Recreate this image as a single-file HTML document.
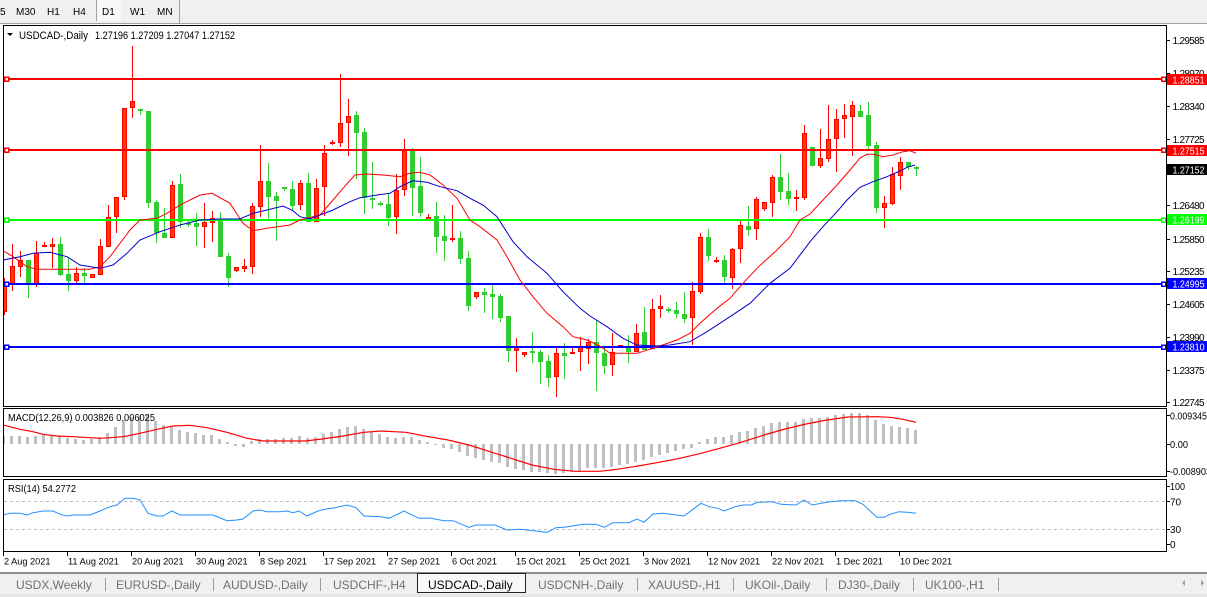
<!DOCTYPE html>
<html><head><meta charset="utf-8"><style>
html,body{margin:0;padding:0;background:#fff;width:1207px;height:597px;overflow:hidden}
svg{display:block}
text{font-family:"Liberation Sans",Arial,sans-serif}
</style></head><body>
<svg width="1207" height="597" viewBox="0 0 1207 597" xmlns="http://www.w3.org/2000/svg">
<defs>
<clipPath id="cm"><rect x="4" y="26" width="1162" height="380"/></clipPath>
<clipPath id="cd"><rect x="4" y="409" width="1162" height="67"/></clipPath>
<clipPath id="cr"><rect x="4" y="480" width="1162" height="71"/></clipPath>
</defs>
<rect x="0" y="0" width="1207" height="597" fill="#fff"/>
<!-- toolbar -->
<rect x="0" y="0" width="1207" height="23" fill="#f0f0f0"/>
<rect x="96" y="0" width="25" height="21" fill="#f8f8f8"/>
<line x1="96.5" y1="0" x2="96.5" y2="21" stroke="#a0a0a0"/>
<line x1="179.5" y1="0" x2="179.5" y2="23" stroke="#a0a0a0"/>
<line x1="0" y1="23.5" x2="1207" y2="23.5" stroke="#a0a0a0"/>
<g font-size="10" fill="#000">
<text x="0" y="15">5</text>
<text x="16" y="15">M30</text>
<text x="47" y="15">H1</text>
<text x="73" y="15">H4</text>
<text x="102" y="15">D1</text>
<text x="130" y="15">W1</text>
<text x="157" y="15">MN</text>
</g>
<!-- panels -->
<g fill="none" stroke="#000" stroke-width="1" shape-rendering="crispEdges">
<rect x="3.5" y="25.5" width="1163" height="381"/>
<rect x="3.5" y="408.5" width="1163" height="68"/>
<rect x="3.5" y="479.5" width="1163" height="72"/>
</g>
<!-- main chart -->
<g clip-path="url(#cm)">
<g shape-rendering="crispEdges">
<path stroke="#ff0000" stroke-width="1" fill="none" d="M4.5 278V315M12.5 244V291M20.5 251V277M36.5 241V287M44.5 242V247M52.5 238V268M76.5 267V285M100.5 239V275M108.5 205V247M116.5 197V233M124.5 108V200M132.5 46V118M172.5 181V238M204.5 203V248M212.5 211V242M236.5 267V272M244.5 259V272M252.5 203V274M260.5 145V217M300.5 180V210M316.5 179V222M324.5 145V216M332.5 140V145M340.5 74V147M348.5 99V156M396.5 174V234M404.5 139V196M428.5 214V220M452.5 205V242M476.5 292V299M516.5 338V372M524.5 352V357M556.5 346V397M572.5 348V354M580.5 337V371M588.5 339V364M612.5 333V376M620.5 345V348M636.5 324V352M652.5 299V349M660.5 295V318M692.5 282V345M700.5 233V294M716.5 257V263M732.5 248V289M740.5 219V263M756.5 197V240M764.5 202V211M772.5 175V217M796.5 190V211M804.5 125V200M820.5 129V168M828.5 105V162M836.5 109V172M844.5 104V138M852.5 101V156M884.5 196V228M892.5 167V205M900.5 157V190"/>
<path stroke="#32cd32" stroke-width="1" fill="none" d="M28.5 260V298M60.5 237V276M68.5 258V291M84.5 268V284M140.5 109V115M148.5 111V208M156.5 200V243M164.5 208V238M180.5 174V228M188.5 220V227M196.5 213V246M220.5 212V257M228.5 253V287M268.5 163V219M276.5 192V241M284.5 187V191M292.5 181V210M308.5 173V222M356.5 111V179M364.5 128V214M372.5 162V209M380.5 201V206M388.5 194V226M412.5 148V216M420.5 157V217M436.5 202V253M444.5 215V261M460.5 231V264M468.5 251V311M484.5 288V313M492.5 285V319M500.5 294V322M508.5 316V362M532.5 332V363M540.5 350V384M548.5 355V387M564.5 343V379M596.5 320V391M604.5 348V374M628.5 335V363M644.5 307V350M668.5 307V313M676.5 302V318M684.5 292V323M708.5 229V261M724.5 255V283M748.5 206V236M780.5 154V200M788.5 173V205M812.5 147V166M860.5 105V117M868.5 102V151M876.5 142V213M908.5 162V170M916.5 166V176"/>
<path fill="#32cd32" d="M26 260h5v24h-5zM58 244h5v31h-5zM66 274h5v7h-5zM82 273h5v3h-5zM138 109h5v2h-5zM146 111h5v92h-5zM154 202h5v31h-5zM162 233h5v5h-5zM178 184h5v38h-5zM186 223h5v2h-5zM194 223h5v4h-5zM218 220h5v37h-5zM226 256h5v22h-5zM266 181h5v16h-5zM274 196h5v5h-5zM282 187h5v2h-5zM290 189h5v17h-5zM306 183h5v39h-5zM354 115h5v18h-5zM362 132h5v66h-5zM370 198h5v2h-5zM378 203h5v2h-5zM386 204h5v14h-5zM410 149h5v39h-5zM418 186h5v27h-5zM434 216h5v21h-5zM442 236h5v5h-5zM458 238h5v21h-5zM466 258h5v48h-5zM482 292h5v3h-5zM490 294h5v3h-5zM498 296h5v22h-5zM506 316h5v35h-5zM530 351h5v2h-5zM538 352h5v10h-5zM546 361h5v17h-5zM562 353h5v3h-5zM594 342h5v11h-5zM602 353h5v13h-5zM626 347h5v5h-5zM642 332h5v18h-5zM666 309h5v2h-5zM674 310h5v4h-5zM682 314h5v5h-5zM706 237h5v19h-5zM722 260h5v17h-5zM746 226h5v4h-5zM778 177h5v15h-5zM786 191h5v8h-5zM810 147h5v19h-5zM858 111h5v6h-5zM866 115h5v31h-5zM874 145h5v63h-5zM906 162h5v5h-5zM914 167h5v2h-5z"/>
<path fill="#ff3d00" stroke="#ff0000" stroke-width="1" d="M2.5 282.5h4v29h-4zM10.5 266.5h4v17h-4zM18.5 260.5h4v6h-4zM34.5 253.5h4v30h-4zM42.5 245.5h4v1h-4zM50.5 244.5h4v2h-4zM74.5 273.5h4v7h-4zM90.5 274.5h4v3h-4zM98.5 246.5h4v28h-4zM106.5 217.5h4v29h-4zM114.5 197.5h4v19h-4zM122.5 108.5h4v88h-4zM130.5 101.5h4v6h-4zM170.5 185.5h4v52h-4zM202.5 222.5h4v4h-4zM210.5 218.5h4v4h-4zM234.5 267.5h4v3h-4zM242.5 266.5h4v2h-4zM250.5 206.5h4v60h-4zM258.5 181.5h4v25h-4zM298.5 183.5h4v21h-4zM314.5 188.5h4v33h-4zM322.5 153.5h4v33h-4zM330.5 142.5h4v1h-4zM338.5 123.5h4v19h-4zM346.5 116.5h4v6h-4zM394.5 190.5h4v26h-4zM402.5 149.5h4v40h-4zM426.5 217.5h4v2h-4zM450.5 238.5h4v1h-4zM474.5 292.5h4v4h-4zM514.5 346.5h4v4h-4zM522.5 352.5h4v2h-4zM554.5 353.5h4v23h-4zM570.5 352.5h4v1h-4zM578.5 347.5h4v4h-4zM586.5 342.5h4v6h-4zM610.5 352.5h4v12h-4zM618.5 345.5h4v1h-4zM634.5 333.5h4v18h-4zM650.5 309.5h4v39h-4zM658.5 306.5h4v2h-4zM690.5 291.5h4v26h-4zM698.5 237.5h4v54h-4zM714.5 260.5h4v1h-4zM730.5 249.5h4v28h-4zM738.5 225.5h4v23h-4zM754.5 199.5h4v29h-4zM762.5 202.5h4v6h-4zM770.5 177.5h4v25h-4zM794.5 197.5h4v1h-4zM802.5 133.5h4v64h-4zM818.5 158.5h4v7h-4zM826.5 139.5h4v19h-4zM834.5 119.5h4v19h-4zM842.5 115.5h4v3h-4zM850.5 105.5h4v11h-4zM882.5 203.5h4v4h-4zM890.5 174.5h4v29h-4zM898.5 162.5h4v13h-4z"/>
<!-- horizontal lines -->
<line x1="4" y1="79" x2="1166" y2="79" stroke="#ff0000" stroke-width="2"/>
<line x1="4" y1="150" x2="1166" y2="150" stroke="#ff0000" stroke-width="2"/>
<line x1="4" y1="220" x2="1166" y2="220" stroke="#00ff00" stroke-width="2"/>
<line x1="4" y1="284" x2="1166" y2="284" stroke="#0000ff" stroke-width="2"/>
<line x1="4" y1="347" x2="1166" y2="347" stroke="#0000ff" stroke-width="2"/>
<g fill="#fff" stroke-width="1.5">
<rect x="4.5" y="77" width="4" height="4" stroke="#ff0000"/>
<rect x="1161.5" y="77" width="4" height="4" stroke="#ff0000"/>
<rect x="4.5" y="148" width="4" height="4" stroke="#ff0000"/>
<rect x="1161.5" y="148" width="4" height="4" stroke="#ff0000"/>
<rect x="4.5" y="218" width="4" height="4" stroke="#00ff00"/>
<rect x="1161.5" y="218" width="4" height="4" stroke="#00ff00"/>
<rect x="4.5" y="282" width="4" height="4" stroke="#0000ff"/>
<rect x="1161.5" y="282" width="4" height="4" stroke="#0000ff"/>
<rect x="4.5" y="345" width="4" height="4" stroke="#0000ff"/>
<rect x="1161.5" y="345" width="4" height="4" stroke="#0000ff"/>
</g>
</g>
<polyline fill="none" stroke="#ff0000" stroke-width="1" points="3,250.7 13,256.7 27,266.7 37,269.3 90,269.3 100,266.7 110,256.7 120,243.3 130,230 140,220 157,218.3 167,213.3 180,205 200,195 212,193.3 230,203.3 243,223.3 253,230.7 267,228.3 290,225 300,220 320,215 333,200 343,188.3 355,175 367,174 383,175 400,176.7 410,173.3 420,172.3 430,175 443,185 457,198.3 470,220 480,226.7 497,240 507,256.7 520,280 533,296.7 547,313.3 563,326.7 573,336.7 587,340 600,346 610,353.3 637,353.3 653,348.3 677,340 690,333.3 700,323.3 717,308.3 730,298.3 743,283.3 757,268.3 777,250 790,236.7 800,220 810,214 823,200 837,185 850,170 860,158 867,154.3 873,154.3 883,156.7 893,155 903,151.7 910,150.7 916,153.3"/>
<polyline fill="none" stroke="#0000cc" stroke-width="1" points="3,260 20,256.7 33,253.3 50,252.3 67,256.7 80,265 100,268.3 113,265 127,253.3 140,240 160,231.7 180,225 200,220 220,219 240,219 253,213.3 267,210 283,206 293,210.7 300,216.7 310,219 320,215 333,210 350,201.7 360,197.7 377,195 390,193.3 400,186.7 413,180.7 427,182.3 440,186.7 457,190.7 470,198.3 483,205 497,216.7 513,241.7 527,256.7 547,273.3 563,291.7 580,308.3 590,316 607,326.7 623,338.3 637,345 657,346 670,345 690,341.7 707,331.7 730,316.7 750,303.3 770,283.3 790,268.3 810,241.7 823,226.7 837,211.7 847,200 860,187.3 873,181.7 887,176.7 900,171 907,167.3 915,165"/>
</g>
<!-- title -->
<polygon points="7,33 13,33 10,36" fill="#000"/>
<text x="19" y="39" font-size="11" textLength="69" lengthAdjust="spacingAndGlyphs">USDCAD-,Daily</text>
<text x="95" y="39" font-size="11" textLength="140" lengthAdjust="spacingAndGlyphs">1.27196 1.27209 1.27047 1.27152</text>
<!-- right axis main -->
<g stroke="#000" shape-rendering="crispEdges">
<path d="M1166 40.5h4M1166 73.5h4M1166 106.5h4M1166 139.5h4M1166 171.5h4M1166 205.5h4M1166 239.5h4M1166 271.5h4M1166 304.5h4M1166 337.5h4M1166 370.5h4M1166 402.5h4M1166 415.5h4M1166 444.5h4M1166 471.5h4M1166 486.5h4M1166 501.5h4M1166 529.5h4M1166 544.5h4"/>
</g>
<g font-size="10" fill="#000" lengthAdjust="spacingAndGlyphs">
<text x="1172.5" y="44" textLength="32">1.29585</text>
<text x="1172.5" y="77" textLength="32">1.28970</text>
<text x="1172.5" y="110" textLength="32">1.28340</text>
<text x="1172.5" y="143" textLength="32">1.27725</text>
<text x="1172.5" y="175" textLength="32">1.27110</text>
<text x="1172.5" y="209" textLength="32">1.26480</text>
<text x="1172.5" y="243" textLength="32">1.25850</text>
<text x="1172.5" y="275" textLength="32">1.25235</text>
<text x="1172.5" y="308" textLength="32">1.24605</text>
<text x="1172.5" y="341" textLength="32">1.23990</text>
<text x="1172.5" y="374" textLength="32">1.23375</text>
<text x="1172.5" y="406" textLength="32">1.22745</text>
</g>
<rect x="1167" y="74" width="40" height="11" fill="#ff0000"/>
<rect x="1167" y="145" width="40" height="11" fill="#ff0000"/>
<rect x="1167" y="164" width="40" height="11" fill="#000"/>
<rect x="1167" y="214" width="40" height="11" fill="#00ff00"/>
<rect x="1167" y="278" width="40" height="11" fill="#0000ff"/>
<rect x="1167" y="341" width="40" height="11" fill="#0000ff"/>
<g font-size="10" fill="#fff">
<text x="1172.5" y="83.5" textLength="32" lengthAdjust="spacingAndGlyphs">1.28851</text>
<text x="1172.5" y="154.5" textLength="32" lengthAdjust="spacingAndGlyphs">1.27515</text>
<text x="1172.5" y="173.5" textLength="32" lengthAdjust="spacingAndGlyphs">1.27152</text>
<text x="1172.5" y="223.5" textLength="32" lengthAdjust="spacingAndGlyphs">1.26199</text>
<text x="1172.5" y="287.5" textLength="32" lengthAdjust="spacingAndGlyphs">1.24995</text>
<text x="1172.5" y="350.5" textLength="32" lengthAdjust="spacingAndGlyphs">1.23810</text>
</g>
<!-- MACD -->
<g clip-path="url(#cd)">
<path stroke="#c0c0c0" stroke-width="3" fill="none" shape-rendering="crispEdges" d="M3.5 444V436M11.5 444V436M19.5 444V436M27.5 444V437M35.5 444V436M43.5 444V435M51.5 444V435M59.5 444V436M67.5 444V438M75.5 444V439M83.5 444V440M91.5 444V439M99.5 444V437M107.5 444V433M115.5 444V427M123.5 444V420M131.5 444V417M139.5 444V416M147.5 444V415M155.5 444V421M163.5 444V425M171.5 444V427M179.5 444V430M187.5 444V432M195.5 444V433M203.5 444V435M211.5 444V435M219.5 444V439M227.5 444V442M235.5 444V446M243.5 444V447M251.5 444V441M259.5 444V439M267.5 444V439M275.5 444V439M283.5 444V438M291.5 444V438M299.5 444V436M307.5 444V438M315.5 444V437M323.5 444V434M331.5 444V432M339.5 444V429M347.5 444V427M355.5 444V426M363.5 444V429M371.5 444V432M379.5 444V434M387.5 444V437M395.5 444V438M403.5 444V437M411.5 444V437M419.5 444V440M427.5 444V442M435.5 444V445M443.5 444V448M451.5 444V449M459.5 444V452M467.5 444V456M475.5 444V458M483.5 444V460M491.5 444V462M499.5 444V463M507.5 444V467M515.5 444V469M523.5 444V470M531.5 444V472M539.5 444V472M547.5 444V473M555.5 444V474M563.5 444V473M571.5 444V472M579.5 444V472M587.5 444V468M595.5 444V468M603.5 444V468M611.5 444V467M619.5 444V465M627.5 444V464M635.5 444V462M643.5 444V460M651.5 444V457M659.5 444V455M667.5 444V453M675.5 444V451M683.5 444V449M691.5 444V448M699.5 444V442M707.5 444V439M715.5 444V437M723.5 444V437M731.5 444V435M739.5 444V432M747.5 444V431M755.5 444V428M763.5 444V426M771.5 444V423M779.5 444V422M787.5 444V422M795.5 444V422M803.5 444V419M811.5 444V418M819.5 444V418M827.5 444V417M835.5 444V415M843.5 444V414M851.5 444V413M859.5 444V413M867.5 444V415M875.5 444V420M883.5 444V424M891.5 444V426M899.5 444V427M907.5 444V428M915.5 444V430"/>
<polyline fill="none" stroke="#ff0000" stroke-width="1.2" points="3,425 20,429.3 33,431.7 43,434.3 57,436 73,436.7 100,438.3 110,437.7 123,436.7 140,433.3 157,429.3 173,426 190,425.3 207,427.7 227,432.3 247,438.3 263,441 280,441 305,441 322,439 343,436 364,432.3 381,431 406,432.3 423,435.7 448,440 469,445 490,451.7 511,458.3 532,465 554,469.3 575,471.3 600,471.3 617,469.3 638,466 659,462.3 680,458.3 701,453.3 722,447.7 743,441.7 764,435 785,429 806,424 827,420 848,417 878,416.7 890,417.3 903,419.3 916,422.3"/>
</g>
<text x="8" y="421" font-size="10" textLength="147" lengthAdjust="spacingAndGlyphs">MACD(12,26,9) 0.003826 0.006025</text>
<g font-size="10" fill="#000">
<text x="1170" y="419.5" textLength="37" lengthAdjust="spacingAndGlyphs">0.009345</text>
<text x="1170" y="448" textLength="18" lengthAdjust="spacingAndGlyphs">0.00</text>
<text x="1170" y="475" textLength="41" lengthAdjust="spacingAndGlyphs">-0.008903</text>
</g>
<!-- RSI -->
<g clip-path="url(#cr)">
<line x1="4" y1="501.5" x2="1166" y2="501.5" stroke="#c0c0c0" stroke-dasharray="3,3"/>
<line x1="4" y1="529.5" x2="1166" y2="529.5" stroke="#c0c0c0" stroke-dasharray="3,3"/>
<polyline fill="none" stroke="#1e90ff" stroke-width="1" points="3,515 10,513.3 20,513.3 27,515 33,512.7 43,511 53,511 60,514.3 67,516 73,515 90,515 100,511 110,506.7 117,505 125,498.3 133,498.3 140,500 148,513.3 157,516 163,516 172,511 180,515 213,515 227,520.7 237,520 243,519 253,511 260,510 267,511.7 280,511.7 287,511 293,512.7 299,511 307,516 318,511 326,509 335,507.7 347,505 356,507.7 364,516 381,516.7 389,518.3 404,511 419,518.3 431,518.3 444,520.7 453,520.7 469,527.3 476,525 495,525 507,530 520,529.3 533,530.7 547,532.3 556,527.7 566,527 583,524.3 596,524.3 604,527.3 613,522.7 629,522.7 637,519 644,522.3 653,514 663,513.3 684,516 701,503.3 709,506.7 718,508.3 724,511 735,506.7 743,505 751,505 758,502.3 772,501.7 781,504.3 796,505 804,500 812,505 827,502.3 840,500.7 855,500.7 863,504.3 869,510 877,517.3 884,517.3 890,514.3 899,511.7 907,512.3 916,513.3"/>
</g>
<text x="8" y="492" font-size="10" textLength="68" lengthAdjust="spacingAndGlyphs">RSI(14) 54.2772</text>
<g font-size="10" fill="#000">
<text x="1170" y="490" textLength="15" lengthAdjust="spacingAndGlyphs">100</text>
<text x="1170" y="505.5">70</text>
<text x="1170" y="533">30</text>
<text x="1170" y="548">0</text>
</g>
<!-- x axis -->
<path stroke="#000" fill="none" shape-rendering="crispEdges" d="M3.5 551V556M67.5 551V556M131.5 551V556M195.5 551V556M259.5 551V556M323.5 551V556M387.5 551V556M451.5 551V556M515.5 551V556M579.5 551V556M643.5 551V556M707.5 551V556M771.5 551V556M835.5 551V556M899.5 551V556"/>
<g font-size="9.2" fill="#000">
<text x="4" y="564.5">2 Aug 2021</text>
<text x="68" y="564.5">11 Aug 2021</text>
<text x="132" y="564.5">20 Aug 2021</text>
<text x="196" y="564.5">30 Aug 2021</text>
<text x="260" y="564.5">8 Sep 2021</text>
<text x="324" y="564.5">17 Sep 2021</text>
<text x="388" y="564.5">27 Sep 2021</text>
<text x="452" y="564.5">6 Oct 2021</text>
<text x="516" y="564.5">15 Oct 2021</text>
<text x="580" y="564.5">25 Oct 2021</text>
<text x="644" y="564.5">3 Nov 2021</text>
<text x="708" y="564.5">12 Nov 2021</text>
<text x="772" y="564.5">22 Nov 2021</text>
<text x="836" y="564.5">1 Dec 2021</text>
<text x="900" y="564.5">10 Dec 2021</text>
</g>
<!-- bottom tabs -->
<rect x="0" y="573" width="1207" height="24" fill="#f0f0f0"/>
<rect x="0" y="594" width="1207" height="3" fill="#e6e6e6"/>
<rect x="0" y="572" width="1207" height="2" fill="#8a8a8a"/>
<rect x="417.5" y="573.5" width="108" height="19" fill="#f8f8f8" stroke="#222" stroke-width="1"/>
<g stroke="#9a9a9a" shape-rendering="crispEdges">
<path d="M105.5 578V591M213.5 578V591M320.5 578V591M637.5 578V591M733.5 578V591M826.5 578V591M913.5 578V591M998.5 578V591"/>
</g>
<g font-size="12" fill="#707070">
<text x="16" y="589">USDX,Weekly</text>
<text x="116" y="589">EURUSD-,Daily</text>
<text x="223" y="589">AUDUSD-,Daily</text>
<text x="333" y="589">USDCHF-,H4</text>
<text x="538" y="589">USDCNH-,Daily</text>
<text x="648" y="589">XAUUSD-,H1</text>
<text x="745" y="589">UKOil-,Daily</text>
<text x="838" y="589">DJ30-,Daily</text>
<text x="925" y="589">UK100-,H1</text>
</g>
<text x="428" y="589" font-size="12" fill="#000">USDCAD-,Daily</text>
<polygon points="1185,580 1185,586 1182,583" fill="#a0a0a0"/>
<polygon points="1201,580 1201,586 1204,583" fill="#a0a0a0"/>
</svg>
</body></html>
